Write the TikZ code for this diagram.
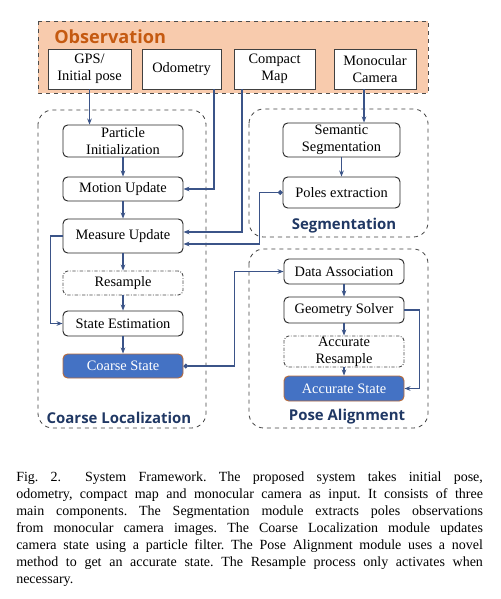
\documentclass[tikz,border=0pt]{standalone}
\usepackage{fontspec}
\setmainfont{Liberation Serif}
\newfontfamily\lblfont{Open Sans}
\usetikzlibrary{arrows.meta,calc}
\definecolor{obsfill}{HTML}{F8CBAD}
\definecolor{obstitle}{HTML}{C55A11}
\definecolor{modlbl}{HTML}{203864}
\definecolor{conn}{HTML}{3B5488}
\definecolor{bluebox}{HTML}{4472C4}
\definecolor{blueedge}{HTML}{B86B3A}
\tikzset{
  groupbox/.style={draw=black!75, dashed, line width=0.6pt, rounded corners=11pt},
  obsbox/.style={draw=black!70, dashed, line width=0.6pt, fill=obsfill},
  inbox/.style={draw=black!75, line width=0.7pt, fill=white, align=center, inner sep=0pt,
     font=\fontsize{10.8}{12.8}\selectfont},
  stepbox/.style={draw=black!85, line width=0.7pt, rounded corners=3.5pt, fill=white, align=center,
     inner sep=0pt, minimum width=90pt, font=\fontsize{10.8}{12.8}\selectfont},
  optbox/.style={stepbox, draw=black!70, dash pattern=on 2.5pt off 1.2pt on 0.6pt off 1.2pt},
  statebox/.style={stepbox, fill=bluebox, draw=blueedge, text=white},
  modlabel/.style={text=modlbl, font=\lblfont\bfseries\fontsize{11.2}{13}\selectfont, inner sep=0pt},
  arr/.style={draw=conn, line width=0.8pt, -{Stealth[length=4.5pt,width=3.5pt]}},
  dotarr/.style={draw=conn, line width=0.8pt, {Circle[length=3.6pt]}-{Stealth[length=4.5pt,width=3.5pt]}}
}
\begin{document}
\begin{tikzpicture}[x=0.75pt,y=-0.75pt]
\useasboundingbox (0,0) rectangle (500,599);
% groups
\draw[obsbox] (38,21) rectangle (428,93);
\node[anchor=west, text=obstitle, font=\lblfont\bfseries\fontsize{13.6}{16}\selectfont, inner sep=0pt] (obstitle) at (54,37) {Observation};
\draw[groupbox] (38,110) rectangle (206,428);
\draw[groupbox] (249,109) rectangle (428,237);
\draw[groupbox] (249,249) rectangle (428,428);
\node[modlabel] (lblcoarse) at (119,418) {Coarse Localization};
\node[modlabel] (lblseg) at (344,226) {Segmentation};
\node[modlabel] (lblpose) at (347,417) {Pose Alignment};
% inputs
\node[inbox, minimum width=62.25pt, minimum height=30pt] (gps) at (89.5,69) {GPS/\\Initial pose};
\node[inbox, minimum width=59.25pt, minimum height=30pt] (odo) at (181.5,69) {Odometry};
\node[inbox, minimum width=60.75pt, minimum height=30pt] (map) at (274.5,69) {Compact\\Map};
\node[inbox, minimum width=61.5pt, minimum height=30pt] (cam) at (375,69) {Monocular\\Camera};
% coarse localization
\node[stepbox, minimum height=24pt] (part) at (123,141) {Particle\\Initialization};
\node[stepbox, minimum height=18pt] (motion) at (123,189) {Motion Update};
\node[stepbox, minimum height=25.5pt] (meas) at (123,236) {Measure Update};
\node[optbox, minimum height=18pt] (res) at (123,283) {Resample};
\node[stepbox, minimum height=18.75pt] (est) at (123,323.5) {State Estimation};
\node[statebox, minimum height=18pt] (coarse) at (123,366) {Coarse State};
% segmentation
\node[stepbox, minimum width=87.75pt, minimum height=25.5pt] (sem) at (341.5,140) {Semantic\\Segmentation};
\node[stepbox, minimum width=87.75pt, minimum height=23.25pt] (poles) at (341.5,192.5) {Poles extraction};
% pose alignment
\node[stepbox, minimum height=18.75pt] (data) at (344,271.5) {Data Association};
\node[stepbox, minimum height=19.5pt] (geo) at (344,310) {Geometry Solver};
\node[optbox, minimum height=23.25pt] (accres) at (344,351.5) {Accurate\\Resample};
\node[statebox, minimum height=18.75pt] (accst) at (344,388.5) {Accurate State};
% connector anchors
\coordinate (odoout) at ($(odo.south)+(32.5,0)$);
\coordinate (mapout) at ($(map.south)+(-32.5,0)$);
\coordinate (camout) at ($(cam.south)+(-11,0)$);
\coordinate (measin1) at ($(meas.east)+(0,-4)$);
\coordinate (measin2) at ($(meas.east)+(0,8)$);
% connectors
\draw[arr] (gps.south) -- (gps.south |- part.north);
\draw[arr] (odoout) |- (motion.east);
\draw[arr] (mapout) |- (measin1);
\draw[arr] (camout) -- (camout |- sem.north);
\draw[arr] (sem) -- (poles);
\draw[dotarr] (poles.west) -- ++(-23,0) |- (measin2);
\draw[arr] (part) -- (motion);
\draw[arr] (motion) -- (meas);
\draw[arr] (meas) -- (res);
\draw[arr] (res) -- (est);
\draw[arr] (est) -- (coarse);
\draw[arr] (meas.west) -- ++(-12,0) |- (est.west);
\draw[dotarr] (coarse.east) -- ++(51,0) |- (data.west);
\draw[arr] (data) -- (geo);
\draw[arr] (geo) -- (accres);
\draw[arr] (accres) -- (accst);
\draw[arr] (geo.east) -- ++(15,0) |- (accst.east);
% caption
\node[anchor=north west, inner sep=0pt, text width=350pt, align=justify,
  font=\fontsize{10.5}{12.75}\selectfont] (caption) at (16,472)
{\frenchspacing\hyphenpenalty=10000\tolerance=10000 Fig.~2.\hspace{1.7em}System Framework. The proposed system takes initial pose,\linebreak
odometry, compact map and monocular camera as input. It consists of three\linebreak
main components. The Segmentation module extracts poles observations\linebreak
from monocular camera images. The Coarse Localization module updates\linebreak
camera state using a particle filter. The Pose Alignment module uses a novel\linebreak
method to get an accurate state. The Resample process only activates when\linebreak
necessary.};
\end{tikzpicture}
\end{document}
